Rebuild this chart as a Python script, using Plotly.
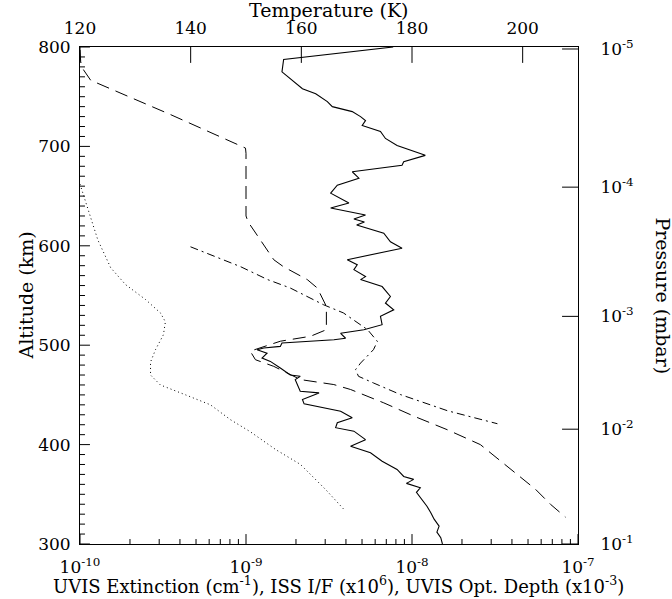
import plotly.graph_objects as go

# Temperature profile (K) versus altitude (km)
temp_alt = [800, 787.4, 775, 768, 758, 753, 745, 740, 735, 730, 726, 721, 715, 708,
            701, 691, 684.5, 681, 674.5, 668, 661, 653, 643, 638, 631, 627, 624, 621,
            612.7, 604, 597.6, 586, 581, 576, 569, 566, 559, 549, 542.4, 535.6, 529,
            520.6, 515.6, 512, 507, 505.5, 503.8, 502.2, 498.8, 497.2, 495.5, 492, 487,
            483.7, 477, 470, 468.7, 465.4, 453.6, 452, 445.3, 441, 433.5, 427, 422, 417,
            413.5, 405, 398.4, 391.8, 383.3, 375, 368, 365, 361, 356.6, 352, 345, 338,
            331.5, 325, 318, 312, 306.4, 300]
temp_k = [176.6, 156.8, 156.5, 158.0, 160.2, 162.6, 164.7, 165.6, 169.2, 170.7, 171.6,
          171.0, 174.3, 175.2, 177.3, 182.4, 178.5, 178.2, 169.2, 170.4, 166.5, 165.3,
          168.6, 165.3, 171.6, 169.5, 171.4, 170.0, 174.9, 176.1, 178.2, 168.3, 170.1,
          169.5, 171.6, 170.7, 174.6, 176.1, 175.2, 176.7, 174.3, 174.6, 171.3, 167.1,
          168.0, 165.9, 160.4, 156.5, 156.2, 153.2, 152.0, 153.8, 152.9, 154.4, 156.2,
          158.0, 159.8, 158.9, 159.8, 163.2, 160.2, 160.5, 167.1, 169.2, 166.5, 166.2,
          169.5, 171.6, 168.9, 172.5, 174.6, 177.3, 178.5, 180.3, 179.0, 181.5, 180.8,
          181.8, 182.7, 183.4, 184.0, 184.9, 184.5, 185.2, 185.5]

# ISS I/F (x1e6) profile
iss_alt = [797, 785, 777, 766.5, 732, 698.3, 693, 630, 624, 606, 586, 579, 566, 557.5,
           547.4, 539, 515.6, 509, 504, 494, 485.4, 478.7, 465.4, 460.4, 455.4, 442,
           428.5, 415, 400, 375, 355, 340, 327]
iss_val = [1.00e-10, 1.01e-10, 1.05e-10, 1.16e-10, 3.51e-10, 9.93e-10, 1.0e-9, 1.0e-9,
           1.03e-9, 1.22e-9, 1.47e-9, 1.68e-9, 2.34e-9, 2.69e-9, 2.88e-9, 3.05e-9,
           3.05e-9, 2.45e-9, 1.61e-9, 1.06e-9, 1.14e-9, 1.47e-9, 2.13e-9, 3.38e-9,
           4.27e-9, 6.76e-9, 1.03e-8, 1.63e-8, 2.58e-8, 3.92e-8, 5.55e-8, 6.82e-8,
           8.41e-8]

# UVIS optical depth (x1e-3) profile
uod_alt = [599, 589, 579, 566, 557.5, 540.7, 532.5, 515.6, 503.8, 495.5, 482, 475.4,
           468.7, 462, 450.3, 434, 421]
uod_val = [4.63e-10, 6.55e-10, 9.27e-10, 1.35e-9, 1.85e-9, 2.93e-9, 3.86e-9, 5.40e-9,
           6.19e-9, 5.86e-9, 4.90e-9, 4.57e-9, 4.76e-9, 5.86e-9, 8.53e-9, 1.64e-8,
           3.27e-8]

# UVIS extinction (cm^-1) profile
uex_alt = [662, 636, 606, 578, 561, 546, 532.5, 523.5, 510.5, 495.5, 483, 470, 460,
           450, 440, 425, 413, 395, 380, 355, 333]
uex_val = [1.00e-10, 1.12e-10, 1.28e-10, 1.53e-10, 1.88e-10, 2.48e-10, 3.05e-10,
           3.27e-10, 3.18e-10, 2.85e-10, 2.66e-10, 2.66e-10, 3.05e-10, 4.33e-10,
           6.11e-10, 8.07e-10, 1.06e-9, 1.51e-9, 2.13e-9, 3.01e-9, 3.98e-9]

# Right-hand pressure scale: altitude of each pressure level
pressure_alt = [798, 659, 529, 415.5, 300]
pressure_labels = ["10<sup>-5</sup>", "10<sup>-4</sup>", "10<sup>-3</sup>",
                   "10<sup>-2</sup>", "10<sup>-1</sup>"]

# Axis tick values
decades = [-10, -9, -8, -7]
temp_ticks = [120, 140, 160, 180, 200]
alt_ticks = [300, 400, 500, 600, 700, 800]

# Axis ranges
LOG_RANGE = [-10, -7]
TEMP_RANGE = [120, 210]
ALT_RANGE = [300, 800]

FONT = "DejaVu Serif"
TICK_FS = 17
TITLE_FS = 18

# Tick lengths as a fraction of the (square) plotting area
MAJOR, MINOR, LONG = 0.02, 0.01, 0.032

fig = go.Figure()
fig.add_trace(go.Scatter(x=temp_k, y=temp_alt, xaxis="x2", yaxis="y2", mode="lines",
                         line=dict(color="black", width=1.1), name="Temperature"))
fig.add_trace(go.Scatter(x=iss_val, y=iss_alt, mode="lines",
                         line=dict(color="black", width=1, dash="13px,7px"), name="ISS I/F"))
fig.add_trace(go.Scatter(x=uod_val, y=uod_alt, mode="lines",
                         line=dict(color="black", width=1, dash="8px,4px,2px,4px"),
                         name="UVIS optical depth"))
fig.add_trace(go.Scatter(x=uex_val, y=uex_alt, mode="lines",
                         line=dict(color="black", width=1, dash="1px,3px"),
                         name="UVIS extinction"))

# Inward-pointing tick marks: one short segment per tick, in axis units
alt_span = ALT_RANGE[1] - ALT_RANGE[0]
log_span = LOG_RANGE[1] - LOG_RANGE[0]
major_log = [10.0 ** d for d in decades]
minor_log = [m * 10.0 ** d for d in decades[:-1] for m in range(2, 10)]


def tick(xs, ys, xaxis="x", yaxis="y"):
    fig.add_trace(go.Scatter(x=xs, y=ys, xaxis=xaxis, yaxis=yaxis, mode="lines",
                             line=dict(color="black", width=1), hoverinfo="skip",
                             showlegend=False))


for v in major_log + minor_log:
    frac = MAJOR if v in major_log else MINOR
    tick([v, v], [ALT_RANGE[0], ALT_RANGE[0] + frac * alt_span])

for a in range(ALT_RANGE[0], ALT_RANGE[1] + 1, 10):
    frac = MAJOR if a in alt_ticks else MINOR
    tick([10.0 ** LOG_RANGE[0], 10.0 ** (LOG_RANGE[0] + frac * log_span)], [a, a])

for a in pressure_alt:
    tick([10.0 ** LOG_RANGE[1], 10.0 ** (LOG_RANGE[1] - LONG * log_span)], [a, a])

for t in temp_ticks:
    tick([t, t], [ALT_RANGE[1], ALT_RANGE[1] - LONG * alt_span], "x2", "y2")

axis_common = dict(showline=True, linecolor="black", linewidth=1, showgrid=False,
                   zeroline=False, ticks="",
                   tickfont=dict(family=FONT, size=TICK_FS, color="black"))

fig.update_layout(
    width=672, height=599,
    margin=dict(l=80, r=94, t=47, b=55),
    paper_bgcolor="white", plot_bgcolor="white",
    showlegend=False,
    font=dict(family=FONT, size=TICK_FS, color="black"),
    xaxis=dict(type="log", range=LOG_RANGE, side="bottom", anchor="y",
               tickmode="array", tickvals=major_log,
               ticktext=[f"10<sup>{d}</sup>" for d in decades],
               ticklabelstandoff=8, **axis_common),
    xaxis2=dict(range=TEMP_RANGE, overlaying="x", side="top", anchor="y2",
                tickmode="array", tickvals=temp_ticks, ticklabelstandoff=5,
                **axis_common),
    yaxis=dict(range=ALT_RANGE, side="left", anchor="x",
               tickmode="array", tickvals=alt_ticks, ticklabelstandoff=5,
               **axis_common),
    yaxis2=dict(range=ALT_RANGE, overlaying="y", side="right", anchor="x2",
                tickmode="array", tickvals=pressure_alt, ticktext=pressure_labels,
                ticklabelstandoff=18, **axis_common),
    annotations=[
        dict(text="Temperature (K)", x=0.5, y=1, xref="paper", yref="paper",
             xanchor="center", yanchor="middle", yshift=37, showarrow=False,
             font=dict(family=FONT, size=TITLE_FS + 1)),
        dict(text="UVIS Extinction (cm<sup>-1</sup>), ISS I/F (x10<sup>6</sup>), "
                  "UVIS Opt. Depth (x10<sup>-3</sup>)",
             x=0.52, y=0, xref="paper", yref="paper", xanchor="center",
             yanchor="bottom", yshift=-55, showarrow=False,
             font=dict(family=FONT, size=TITLE_FS)),
        dict(text="Altitude (km)", x=0, y=0.5, xref="paper", yref="paper",
             xanchor="center", yanchor="middle", xshift=-55, textangle=-90,
             showarrow=False, font=dict(family=FONT, size=TITLE_FS + 1)),
        dict(text="Pressure (mbar)", x=1, y=0.5, xref="paper", yref="paper",
             xanchor="center", yanchor="middle", xshift=85, textangle=90,
             showarrow=False, font=dict(family=FONT, size=TITLE_FS + 1)),
    ],
)

fig.write_html("out.html")
